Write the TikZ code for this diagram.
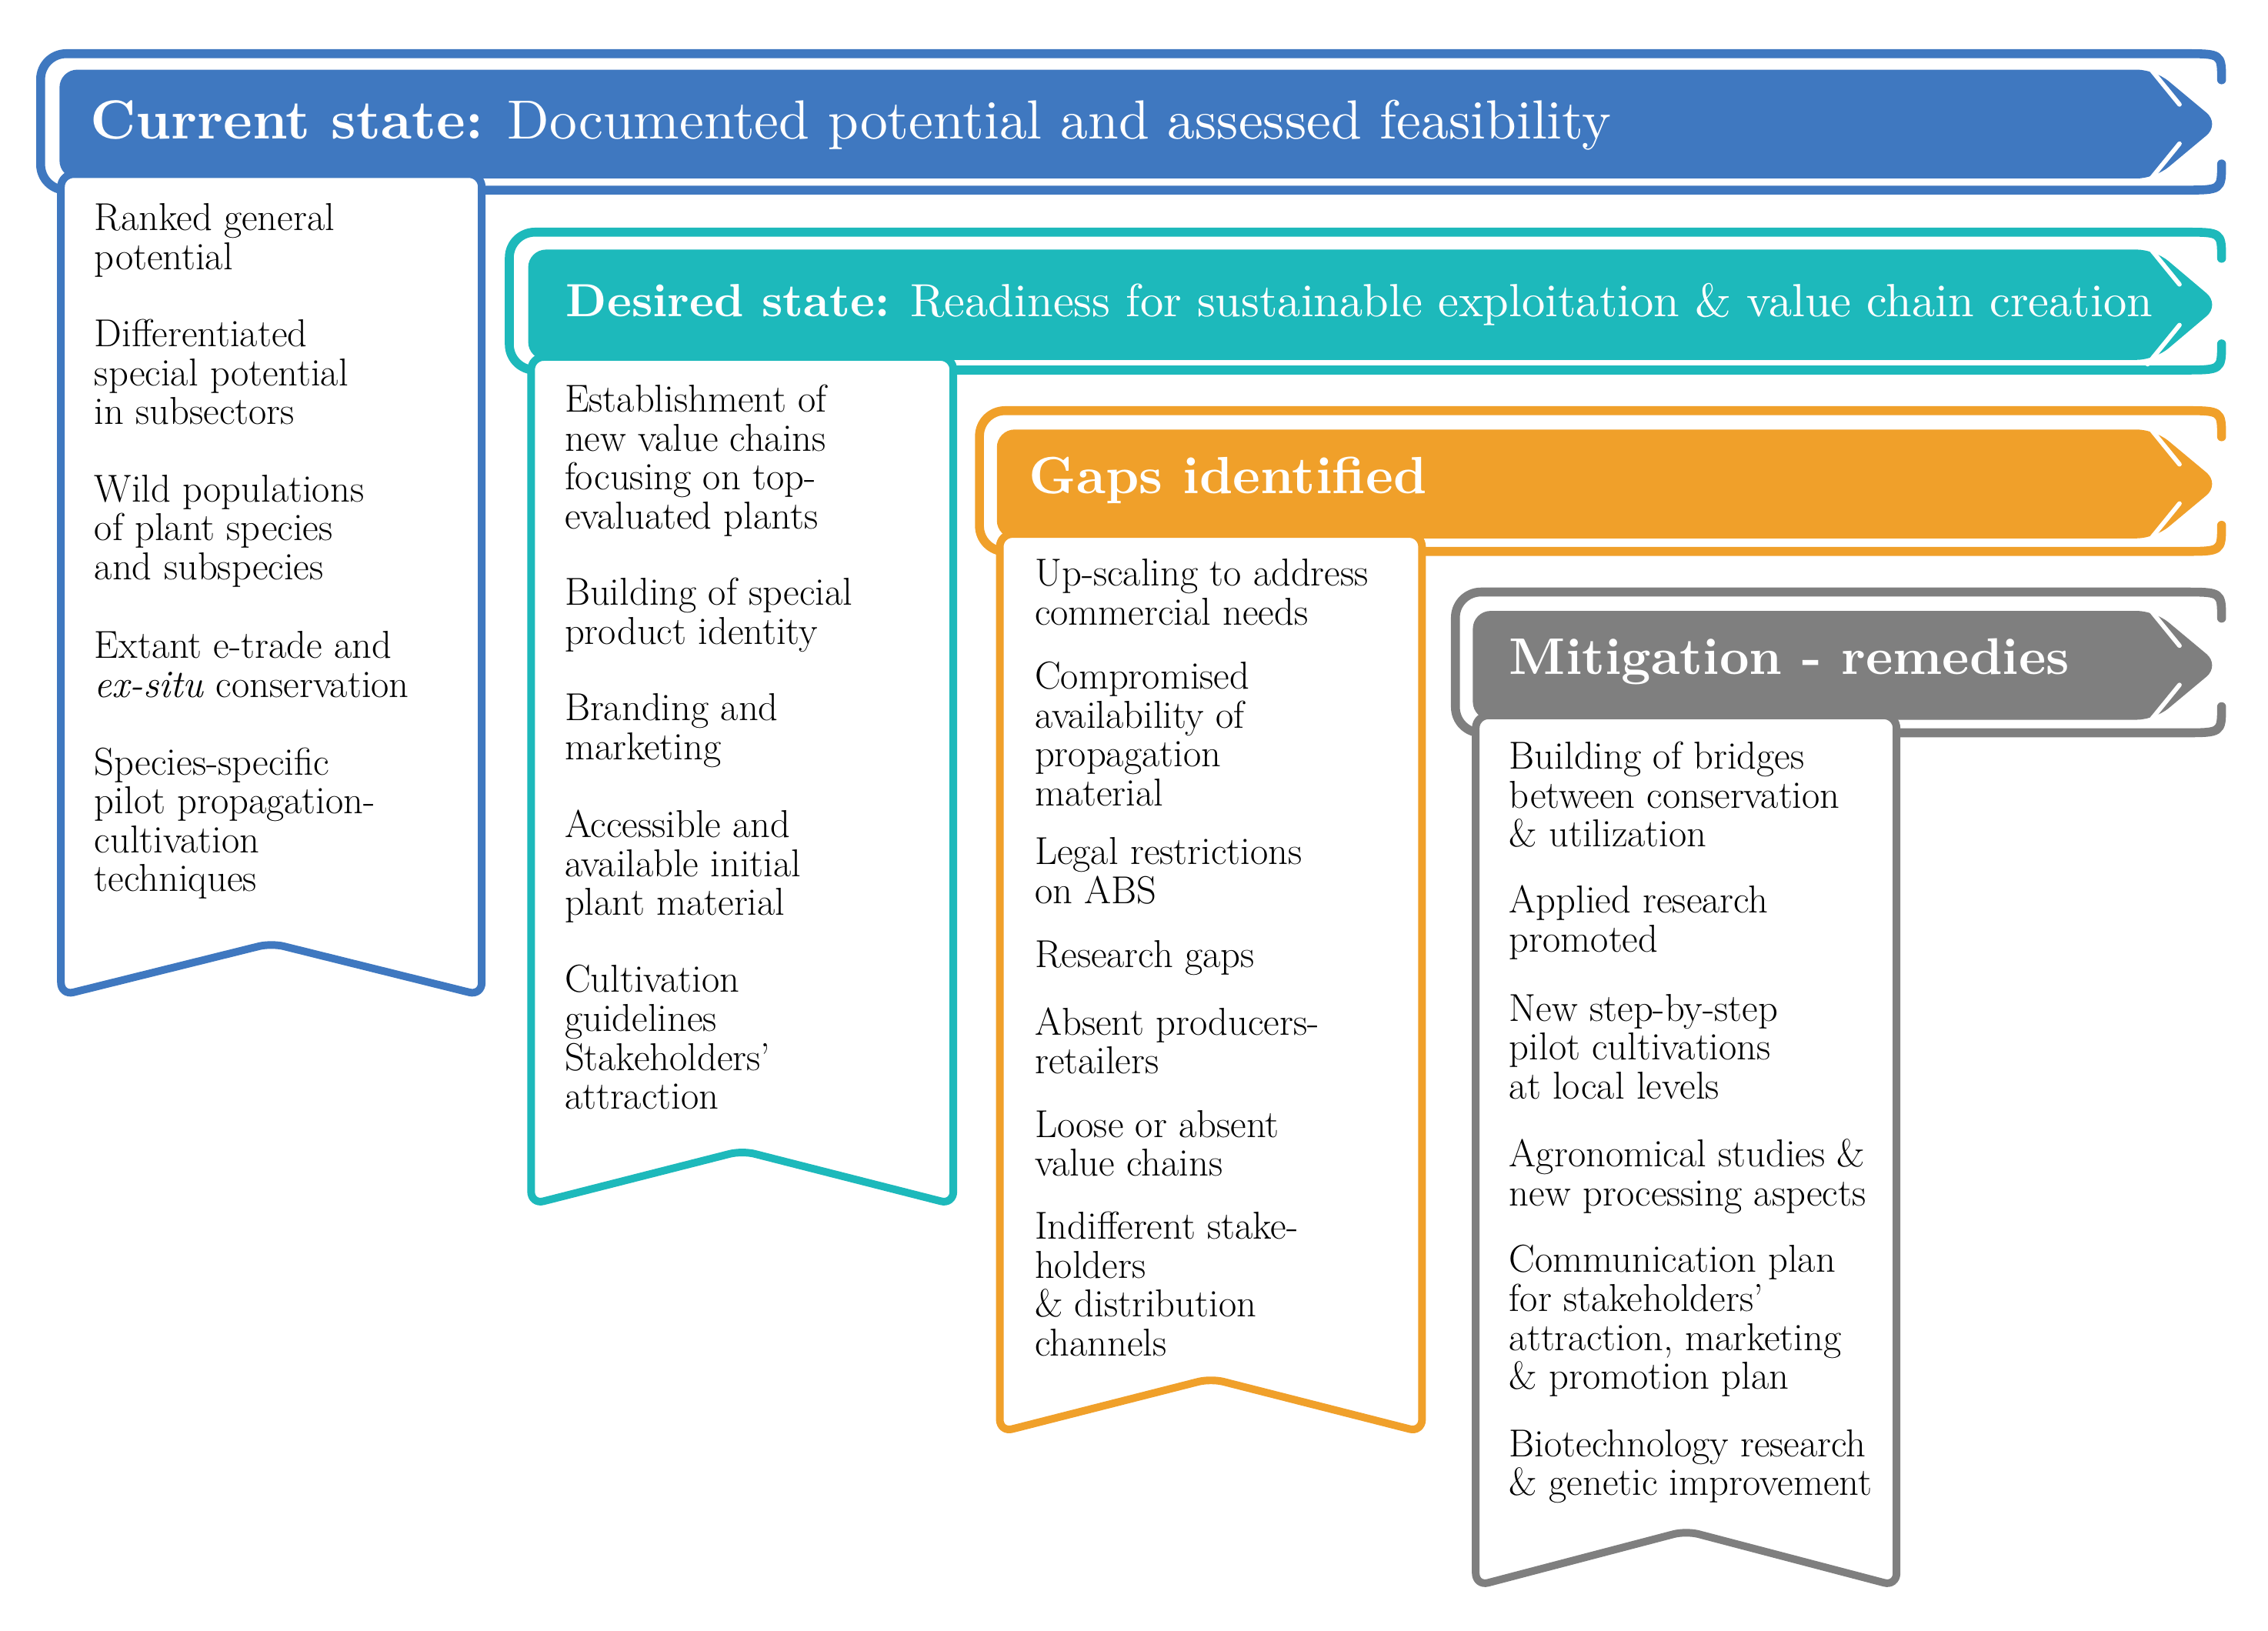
\documentclass[tikz,border=0pt]{standalone}
\usepackage{graphicx}
\definecolor{cblue}{HTML}{3F78C0}
\definecolor{cteal}{HTML}{1DB9BB}
\definecolor{corange}{HTML}{F0A02A}
\definecolor{cgray}{HTML}{7F7F7F}
\tikzset{
 item/.style={anchor=north west,inner sep=0pt,align=left,font=\fontsize{30.5}{30.5}\selectfont},
 ttl/.style={anchor=west,inner sep=0pt,text=white},
}
\begin{document}
\begin{tikzpicture}[x=0.04cm,y=-0.04cm,line join=round,line cap=round]
\useasboundingbox (0,0) rectangle (1563,1124);
\foreach \c/\LO/\TO/\BO/\L/\T/\B/\xa/\xb/\ct/\cb/\nt in {
 cblue/28/37/131/41/48/123/42/332/120/686/650,
 cteal/351/160/255/364/172/248/366/657/246/830/793,
 corange/675/283/380/687/296/371/689/980/368/987/950,
 cgray/1003/408/505/1015/421/496/1017/1307/493/1093/1055}{
 \draw[\c,line width=7] (1531,\TO+18) .. controls (1531,\TO) .. (1505,\TO)
   [rounded corners=20] -- (\LO,\TO) -- (\LO,\BO) [sharp corners] -- (1505,\BO)
   .. controls (1531,\BO) .. (1531,\BO-18);
 \fill[\c,rounded corners=14] (\L,\B) -- (\L,\T) -- (1485,\T) -- (1530,{(\T+\B)/2}) -- (1485,\B) -- cycle;
 \draw[white,line width=3.5] (1480,\T-3) -- (1502,\T+24);
 \draw[white,line width=3.5] (1480,\B+3) -- (1502,\B-24);
 \draw[\c,fill=white,line width=6,rounded corners=10] (\xa,\cb) -- (\xa,\ct) -- (\xb,\ct) -- (\xb,\cb) -- ({(\xa+\xb)/2},\nt) -- cycle;
}
\node[ttl] (t1) at (62,86) {\resizebox{1048\dimexpr0.04cm\relax}{!}{\textbf{Current state:} Documented potential and assessed feasibility}};
\node[ttl] (t2) at (390,210) {\resizebox{1093\dimexpr0.04cm\relax}{!}{\textbf{Desired state:} Readiness for sustainable exploitation \& value chain creation}};
\node[ttl] (t3) at (709,331) {\resizebox{274\dimexpr0.04cm\relax}{!}{\textbf{Gaps identified}}};
\node[ttl] (t4) at (1040,456) {\resizebox{386\dimexpr0.04cm\relax}{!}{\textbf{Mitigation - remedies}}};
\node[item] (b1) at (65,140) {Ranked general\\potential};
\node[item] (b2) at (65,220) {Differentiated\\special potential\\in subsectors};
\node[item] (b3) at (65,327) {Wild populations\\of plant species\\and subspecies};
\node[item] (b4) at (65,435) {Extant e-trade and\\\textit{ex-situ} conservation};
\node[item] (b5) at (65,515) {Species-specific\\pilot propagation-\\cultivation\\techniques};
\node[item] (s1) at (389,265) {Establishment of\\new value chains\\focusing on top-\\evaluated plants};
\node[item] (s2) at (389,398) {Building of special\\product identity};
\node[item] (s3) at (389,478) {Branding and\\marketing};
\node[item] (s4) at (389,558) {Accessible and\\available initial\\plant material};
\node[item] (s5) at (389,665) {Cultivation\\guidelines\\Stakeholders'\\attraction};
\node[item] (g1) at (713,385) {Up-scaling to address\\commercial needs};
\node[item] (g2) at (713,456) {Compromised\\availability of\\propagation\\material};
\node[item] (g3) at (713,577) {Legal restrictions\\on ABS};
\node[item] (g4) at (713,648) {Research gaps};
\node[item] (g5) at (713,694) {Absent producers-\\retailers};
\node[item] (g6) at (713,765) {Loose or absent\\value chains};
\node[item] (g7) at (713,835) {Indifferent stake-\\holders\\\& distribution\\channels};
\node[item] (m1) at (1040,511) {Building of bridges\\between conservation\\\& utilization};
\node[item] (m2) at (1040,610) {Applied research\\promoted};
\node[item] (m3) at (1040,685) {New step-by-step\\pilot cultivations\\at local levels};
\node[item] (m4) at (1040,785) {Agronomical studies \&\\new processing aspects};
\node[item] (m5) at (1040,858) {Communication plan\\for stakeholders'\\attraction, marketing\\\& promotion plan};
\node[item] (m6) at (1040,985) {Biotechnology research\\\& genetic improvement};
\end{tikzpicture}
\end{document}
